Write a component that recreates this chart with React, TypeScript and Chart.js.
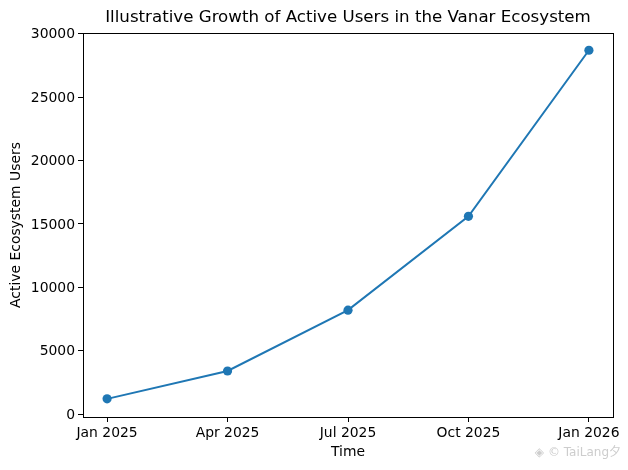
import React, { useEffect, useRef } from "react";
import { Chart, registerables } from "chart.js";

Chart.register(...registerables);

const categories = ["Jan 2025", "Apr 2025", "Jul 2025", "Oct 2025", "Jan 2026"];
const users = [1200, 3400, 8200, 15600, 28700];
const yTicks = [0, 5000, 10000, 15000, 20000, 25000, 30000];
const titleText = "Illustrative Growth of Active Users in the Vanar Ecosystem";
const xLabel = "Time";
const yLabel = "Active Ecosystem Users";
const watermark = "◈ © TaiLang夕";

const FONT = "'DejaVu Sans'";

const framePlugin = {
  id: "frame",
  afterLayout(chart: any) {
    const a = chart.chartArea;
    if (chart.titleBlock) {
      chart.titleBlock.left = a.left;
      chart.titleBlock.right = a.right;
    }
  },
  afterDraw(chart: any) {
    const { ctx, chartArea: a } = chart;
    ctx.save();
    ctx.strokeStyle = "#000";
    ctx.lineWidth = 1;
    ctx.strokeRect(Math.round(a.left) + 0.5, Math.round(a.top) + 0.5, Math.round(a.right - a.left), Math.round(a.bottom - a.top));
    ctx.font = `12px ${FONT}, 'Noto Sans CJK SC'`;
    ctx.fillStyle = "#cdcdcd";
    ctx.textAlign = "right";
    ctx.textBaseline = "middle";
    ctx.fillText(watermark, 621, 453);
    ctx.restore();
  },
};

export default function App() {
  const ref = useRef<HTMLCanvasElement>(null);
  useEffect(() => {
    const chart = new Chart(ref.current!, {
      type: "line",
      data: {
        datasets: [
          {
            data: users.map((y, i) => ({ x: i, y })),
            borderColor: "#1f77b4",
            backgroundColor: "#1f77b4",
            borderWidth: 2,
            pointRadius: 4.6,
            pointBackgroundColor: "#1f77b4",
            pointBorderWidth: 0,
            tension: 0,
            fill: false,
          },
        ],
      },
      options: {
        responsive: false,
        animation: false,
        devicePixelRatio: 1,
        layout: { padding: { left: 0, right: 15, top: 0, bottom: 0 } },
        plugins: {
          legend: { display: false },
          tooltip: { enabled: false },
          title: {
            display: true,
            text: titleText,
            color: "#000",
            font: { family: FONT, size: 16.67, weight: "normal" },
            padding: { top: 8, bottom: 5 },
          },
        },
        scales: {
          x: {
            type: "linear",
            min: -0.2,
            max: 4.2,
            afterFit(s: any) { s.height = 53; },
            afterBuildTicks(s: any) { s.ticks = categories.map((_, i) => ({ value: i })); },
            ticks: {
              color: "#000",
              maxRotation: 0,
              autoSkip: false,
              padding: 3,
              font: { family: FONT, size: 13.9 },
              callback: (v: any) => categories[Number(v)],
            },
            grid: { drawOnChartArea: false, drawTicks: true, tickLength: 5, color: "#000", lineWidth: 1 },
            border: { display: true, color: "#000", width: 1 },
            title: { display: true, text: xLabel, color: "#000", font: { family: FONT, size: 13.9 }, padding: { top: 4, bottom: 9.5 } },
          },
          y: {
            type: "linear",
            min: -230,
            max: 30060,
            afterFit(s: any) { s.width = 83; },
            afterBuildTicks(s: any) { s.ticks = yTicks.map((value) => ({ value })); },
            ticks: {
              color: "#000",
              padding: 3,
              autoSkip: false,
              labelOffset: 1,
              font: { family: FONT, size: 13.9 },
              callback: (v: any) => String(v),
            },
            grid: { drawOnChartArea: false, drawTicks: true, tickLength: 5, color: "#000", lineWidth: 1 },
            border: { display: true, color: "#000", width: 1 },
            title: { display: true, text: yLabel, color: "#000", font: { family: FONT, size: 13.9 }, padding: { top: 8, bottom: 0 } },
          },
        },
      },
      plugins: [framePlugin],
    } as any);
    return () => chart.destroy();
  }, []);
  return (
    <div style={{ position: "fixed", left: 0, top: 0, width: 628, height: 470, background: "#fff" }}>
      <canvas ref={ref} width={628} height={470} style={{ display: "block" }} />
    </div>
  );
}
